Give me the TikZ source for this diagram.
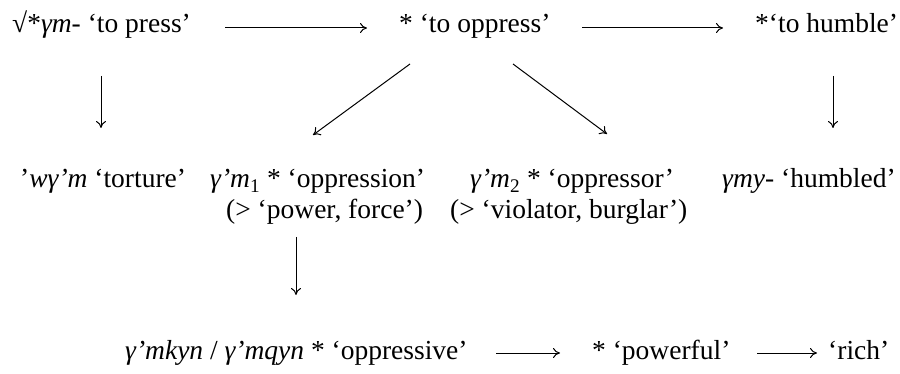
\documentclass[tikz,border=0pt]{standalone}
\usepackage{fontspec}
\setmainfont{Liberation Serif}
\usetikzlibrary{arrows.meta}
\tikzset{
  txt/.style={anchor=base west, inner sep=0pt, font=\fontsize{27.5}{32}\selectfont},
  arr/.style={line width=1pt, -{To[length=7pt,width=10pt]}}
}
\begin{document}
\begin{tikzpicture}[x=1pt,y=-1pt]
\useasboundingbox (0,0) rectangle (900,374);
% row 1
\node[txt] (p) at (12,33) {√*\textit{γm}- ‘to press’};
\node[txt] (o) at (399,33) {* ‘to oppress’};
\node[txt] (h) at (755,33) {*‘to humble’};
% row 2
\node[txt] (w) at (20,188) {’\textit{wγ’m} ‘torture’};
\node[txt] (m1) at (210,188) {\textit{γ’m}\textsubscript{1} * ‘oppression’};
\node[txt] (m1b) at (226,219) {(> ‘power, force’)};
\node[txt] (m2) at (470,188) {\textit{γ’m}\textsubscript{2} * ‘oppressor’};
\node[txt] (m2b) at (450,219) {(> ‘violator, burglar’)};
\node[txt] (y) at (722,188) {\textit{γmy}- ‘humbled’};
% row 3
\node[txt] (k) at (125,359) {\textit{γ’mkyn} / \textit{γ’mqyn} * ‘oppressive’};
\node[txt] (pw) at (592,359) {* ‘powerful’};
\node[txt] (r) at (828,359) {‘rich’};
% connectors
\coordinate (a1s) at (225,28); \coordinate (a1e) at (367,28);
\coordinate (a2s) at (582,28); \coordinate (a2e) at (723,28);
\draw[arr] (a1s) -- (a1e);
\draw[arr] (a2s) -- (a2e);
\coordinate (d1s) at (101,76); \coordinate (d1e) at (101,128);
\coordinate (d2s) at (833,76); \coordinate (d2e) at (833,128);
\draw[arr] (d1s) -- (d1e);
\draw[arr] (d2s) -- (d2e);
\coordinate (g1s) at (410,64); \coordinate (g1e) at (313,135);
\coordinate (g2s) at (513,64); \coordinate (g2e) at (607,134);
\draw[arr] (g1s) -- (g1e);
\draw[arr] (g2s) -- (g2e);
\coordinate (d3s) at (296,237); \coordinate (d3e) at (296,295);
\draw[arr] (d3s) -- (d3e);
\coordinate (a3s) at (496,353); \coordinate (a3e) at (560,353);
\coordinate (a4s) at (757,353); \coordinate (a4e) at (817,353);
\draw[arr] (a3s) -- (a3e);
\draw[arr] (a4s) -- (a4e);
\end{tikzpicture}
\end{document}
